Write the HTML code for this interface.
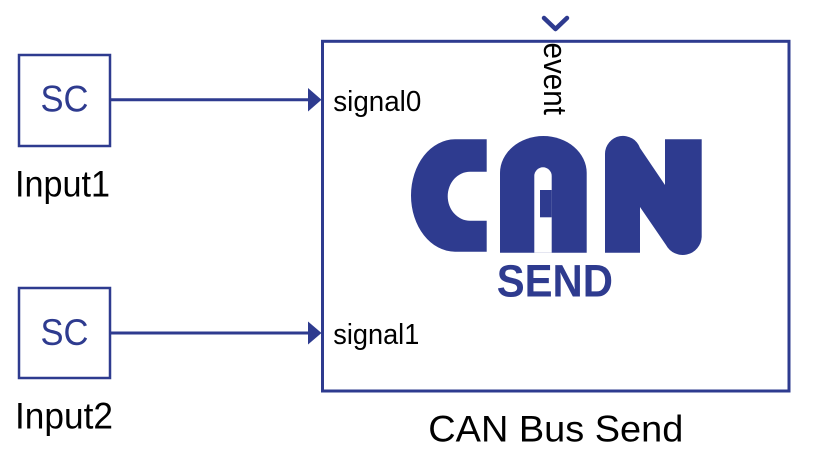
<!DOCTYPE html>
<html>
<head>
<meta charset="utf-8">
<style>
  html, body { margin:0; padding:0; background:#ffffff; }
  body { width:817px; height:466px; overflow:hidden; }
  svg { display:block; }
  text { font-family: "Liberation Sans", Arial, sans-serif; }
</style>
</head>
<body>
<svg width="817" height="466" viewBox="0 0 817 466" xmlns="http://www.w3.org/2000/svg">
  <rect x="0" y="0" width="817" height="466" fill="#ffffff"/>

  <!-- Input1 block -->
  <rect x="19" y="55" width="91" height="91" fill="none" stroke="#2e3b8f" stroke-width="2.5"/>
  <text x="40.5" y="111.5" font-size="37" fill="#2e3b8f" textLength="48" lengthAdjust="spacingAndGlyphs">SC</text>
  <text x="15" y="196.5" font-size="37" fill="#000" textLength="95" lengthAdjust="spacingAndGlyphs">Input1</text>

  <!-- Input2 block -->
  <rect x="19" y="288" width="91" height="90" fill="none" stroke="#2e3b8f" stroke-width="2.5"/>
  <text x="40.5" y="345" font-size="37" fill="#2e3b8f" textLength="48" lengthAdjust="spacingAndGlyphs">SC</text>
  <text x="15" y="428.5" font-size="37" fill="#000" textLength="98" lengthAdjust="spacingAndGlyphs">Input2</text>

  <!-- connectors -->
  <line x1="110" y1="99.8" x2="310" y2="99.8" stroke="#2e3b8f" stroke-width="3"/>
  <polygon points="308,88 321.5,99.8 308,111.5" fill="#2e3b8f"/>
  <line x1="110" y1="333" x2="310" y2="333" stroke="#2e3b8f" stroke-width="3"/>
  <polygon points="308,321.5 321.5,333 308,344.5" fill="#2e3b8f"/>

  <!-- main block -->
  <rect x="322.5" y="41.3" width="466.5" height="349.7" fill="none" stroke="#2e3b8f" stroke-width="3"/>

  <!-- event port chevron -->
  <polyline points="544,18 555.5,29 567,18" fill="none" stroke="#2e3b8f" stroke-width="4.5" stroke-linecap="round" stroke-linejoin="round"/>
  <text transform="translate(544,42.5) rotate(90)" font-size="32" fill="#000" textLength="72.5" lengthAdjust="spacingAndGlyphs">event</text>

  <!-- port labels -->
  <text x="333.3" y="111" font-size="29" fill="#000" textLength="88" lengthAdjust="spacingAndGlyphs">signal0</text>
  <text x="333.3" y="344" font-size="29" fill="#000" textLength="86" lengthAdjust="spacingAndGlyphs">signal1</text>

  <!-- CAN logo -->
  <!-- C -->
  <path d="M486.7,139.3 H455 A44,56.2 0 0 0 455,251.7 H486.7 V220.7 H470 A22.3,24.5 0 0 1 470,171.7 H486.7 Z" fill="#2e3b8f"/>
  <!-- A -->
  <path d="M500,252.7 V173 A43.35,37 0 0 1 586.7,173 V252.7 Z" fill="#2e3b8f"/>
  <path d="M534.3,252.7 V176 A8.7,8.7 0 0 1 551.7,176 V252.7 Z" fill="#ffffff"/>
  <rect x="540" y="190" width="11.7" height="27.3" fill="#2e3b8f"/>
  <!-- N -->
  <path d="M605,252.7 V154 A18,18 0 0 1 640,148 L665,185 V139.3 H701.7 V237 A19,19 0 0 1 666,245 L640,207 V252.7 Z" fill="#2e3b8f"/>
  <!-- SEND -->
  <text x="496.7" y="296.5" font-size="45" font-weight="bold" fill="#2e3b8f" textLength="116.3" lengthAdjust="spacingAndGlyphs">SEND</text>

  <!-- block label -->
  <text x="428.3" y="441.7" font-size="37" fill="#000" textLength="255" lengthAdjust="spacingAndGlyphs">CAN Bus Send</text>
</svg>
</body>
</html>
